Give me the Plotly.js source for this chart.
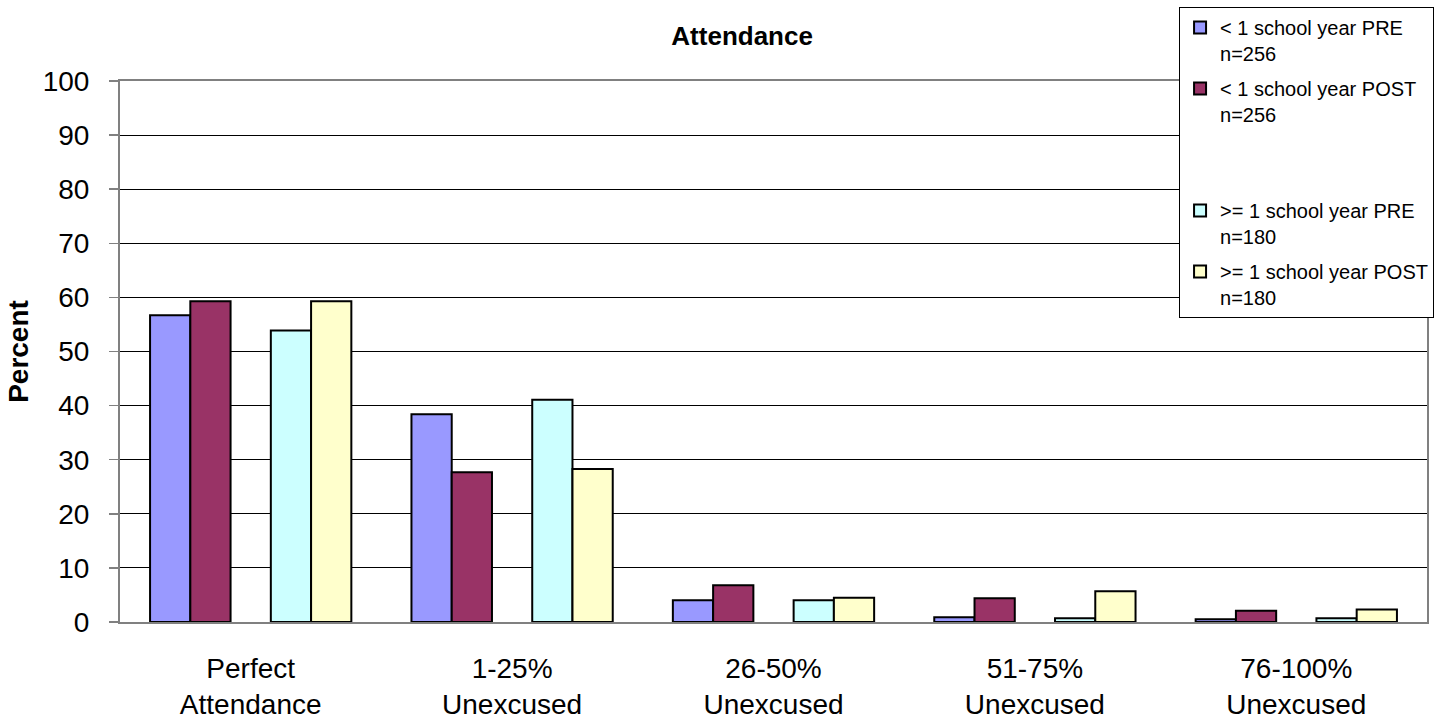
<!DOCTYPE html>
<html>
<head>
<meta charset="utf-8">
<script src="https://cdn.plot.ly/plotly-3.0.1.min.js"></script>
<style>html,body{margin:0;padding:0;background:#fff;}#chart{width:1444px;height:723px;}</style>
</head>
<body>
<div id="chart"></div>
<script>
const categories = ["Perfect<br>Attendance", "1-25%<br>Unexcused", "26-50%<br>Unexcused", "51-75%<br>Unexcused", "76-100%<br>Unexcused"];
const seriesNames = ["< 1 school year PRE<br>n=256", "< 1 school year POST<br>n=256", "\u00a0<br>\u00a0", ">= 1 school year PRE<br>n=180", ">= 1 school year POST<br>n=180"];
const lessPre = [56.7, 38.4, 4.0, 0.9, 0.5];
const lessPost = [59.3, 27.7, 6.8, 4.4, 2.1];
const blankSeries = [null, null, null, null, null];
const morePre = [53.9, 41.1, 4.0, 0.7, 0.7];
const morePost = [59.3, 28.3, 4.5, 5.7, 2.3];
const yTicks = [0, 10, 20, 30, 40, 50, 60, 70, 80, 90, 100];

const colors = ["#9999FF", "#993366", "rgba(0,0,0,0)", "#CCFFFF", "#FFFFCC"];
const values = [lessPre, lessPost, blankSeries, morePre, morePost];
const FONT = "Arial, 'Liberation Sans', sans-serif";

const traces = values.map((v, i) => ({
  type: "bar",
  x: categories,
  y: v,
  name: seriesNames[i],
  offsetgroup: String(i),
  legendgroup: "g" + i,
  marker: {color: colors[i], line: {color: i === 2 ? "rgba(0,0,0,0)" : "#000000", width: i === 2 ? 0 : 2}},
  hoverinfo: "skip"
}));

const layout = {
  width: 1444,
  height: 723,
  margin: {l: 120, r: 17, t: 81, b: 101, autoexpand: false},
  paper_bgcolor: "#ffffff",
  plot_bgcolor: "#ffffff",
  barmode: "group",
  bargap: 0.23,
  bargroupgap: 0,
  font: {family: FONT, color: "#000000"},
  title: {text: "<b>Attendance</b>", font: {family: FONT, size: 26, color: "#000"}, x: 0.476, xref: "paper", xanchor: "center", y: 0.95, yanchor: "middle"},
  xaxis: {
    type: "category",
    tickfont: {family: FONT, size: 28, color: "#000"},
    showline: true, linecolor: "#808080", linewidth: 2, mirror: true,
    showgrid: false, ticks: "", ticklabelstandoff: 20
  },
  yaxis: {
    range: [0, 100],
    tickvals: yTicks,
    ticktext: yTicks.map(String),
    tickfont: {family: FONT, size: 28, color: "#000"},
    showline: true, linecolor: "#808080", linewidth: 2, mirror: true,
    showgrid: true, gridcolor: "#000000", gridwidth: 1,
    zeroline: false,
    ticks: "outside", ticklen: 9, tickcolor: "#808080", tickwidth: 1.5,
    ticklabelstandoff: 14,
    title: {text: "<b>Percent</b>", font: {family: FONT, size: 28, color: "#000"}, standoff: 6}
  },
  legend: {
    x: 0.8103, xanchor: "left", y: 1.137, yanchor: "top",
    bgcolor: "#ffffff", bordercolor: "#000000", borderwidth: 1,
    font: {family: FONT, size: 20, color: "#000"},
    valign: "top",
    tracegroupgap: 6,
    itemwidth: 30,
    traceorder: "grouped"
  },
  showlegend: true
};

Plotly.newPlot("chart", traces, layout, {displayModeBar: false, staticPlot: true});
</script>
</body>
</html>
